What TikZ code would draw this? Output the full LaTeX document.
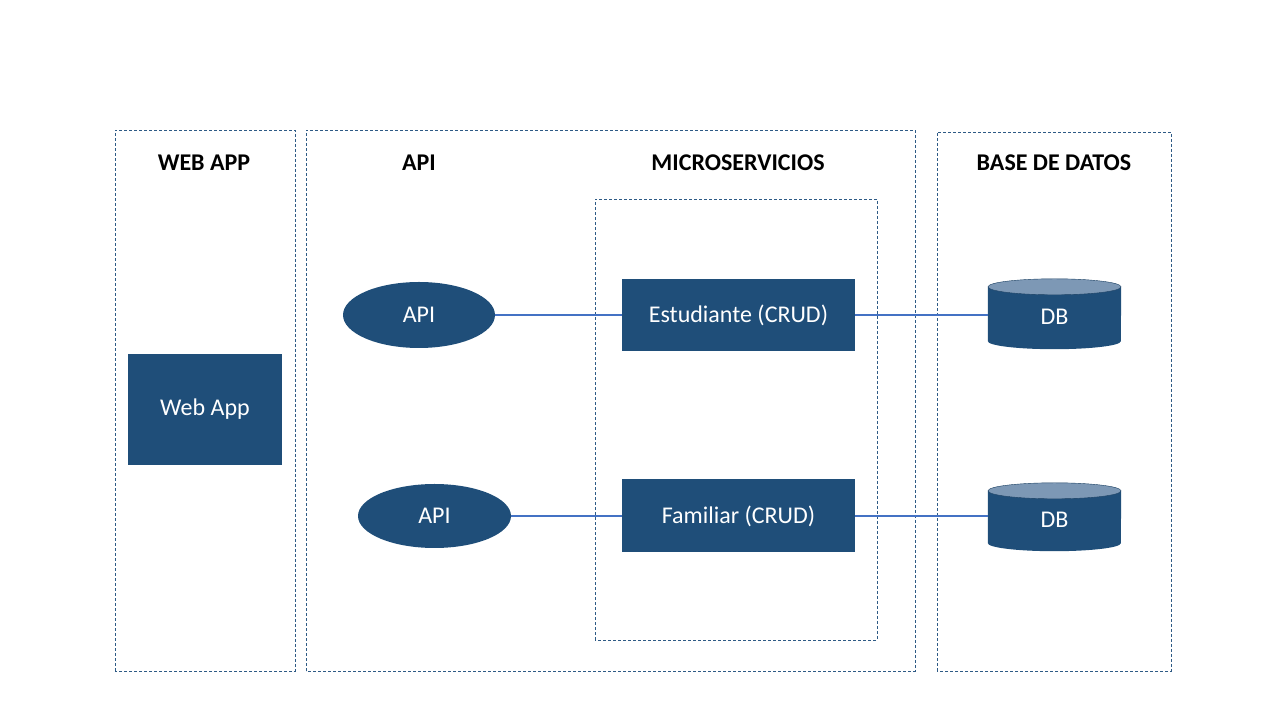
\documentclass[tikz,border=0pt]{standalone}
\usepackage{fontspec}
\setmainfont{Carlito}
\usetikzlibrary{backgrounds,shapes.geometric}
\definecolor{navy}{HTML}{1F4E79}
\definecolor{captop}{HTML}{7D98B5}
\definecolor{linkc}{HTML}{4472C4}
\definecolor{dashc}{HTML}{2E5A85}
\tikzset{
  zone/.style={draw=dashc, line width=0.8pt, dash pattern=on 3pt off 2pt},
  title/.style={font=\fontsize{24}{28}\selectfont\bfseries, text=black},
  box/.style={rectangle, fill=navy, text=white, font=\fontsize{24}{28}\selectfont, inner sep=0pt},
  oval/.style={ellipse, fill=navy, text=white, font=\fontsize{24}{28}\selectfont, inner sep=0pt},
  dbnode/.style={rectangle, text=white, font=\fontsize{24}{28}\selectfont, inner sep=0pt, minimum width=133pt, text height=21.5pt, text depth=0pt},
  link/.style={draw=linkc, line width=1.3pt},
}
\begin{document}
\begin{tikzpicture}[x=1pt,y=1pt]
\useasboundingbox (0,0) rectangle (1280,720);
% zones
\draw[zone] (115,49) rectangle (295,590);
\draw[zone] (306,49) rectangle (915,590);
\draw[zone] (937,49) rectangle (1171,588);
\draw[zone] (595,80) rectangle (877,521);
% titles
\node[title] (t1) at (204,557) {WEB APP};
\node[title] (t2) at (419,557) {API};
\node[title] (t3) at (738,557) {MICROSERVICIOS};
\node[title] (t4) at (1054,557) {BASE DE DATOS};
% nodes
\node[box, minimum width=154pt, minimum height=111pt] (web) at (205,310.5) {Web App};
\node[oval, minimum width=152pt, minimum height=66pt] (api1) at (419,405) {API};
\node[oval, minimum width=153pt, minimum height=64pt] (api2) at (434.5,204) {API};
\node[box, minimum width=233pt, minimum height=72pt] (est) at (738.5,405) {Estudiante (CRUD)};
\node[box, minimum width=233pt, minimum height=73pt] (fam) at (738.5,204) {Familiar (CRUD)};
\node[dbnode, minimum height=70pt] (db1) at (1054.5,406) {DB};
\node[dbnode, minimum height=68pt] (db2) at (1054.5,203) {DB};
\begin{scope}[on background layer]
\foreach \d in {db1,db2}{
  \fill[navy] ([yshift=-8pt]\d.north west) -- ([yshift=8pt]\d.south west)
    arc[start angle=180,end angle=360,x radius=66.5pt,y radius=8pt]
    -- ([yshift=-8pt]\d.north east) -- cycle;
  \fill[captop] ([yshift=-8pt]\d.north) ellipse[x radius=66.5pt,y radius=8pt];
  \draw[navy!80!black, line width=0.4pt] ([yshift=-8pt]\d.north) ellipse[x radius=66.5pt,y radius=8pt];
}
\end{scope}
% links
\draw[link] (api1.east) -- (est.west);
\draw[link] (est.east) -- (db1.west |- est.east);
\draw[link] (api2.east) -- (fam.west);
\draw[link] (fam.east) -- (db2.west |- fam.east);
\end{tikzpicture}
\end{document}
